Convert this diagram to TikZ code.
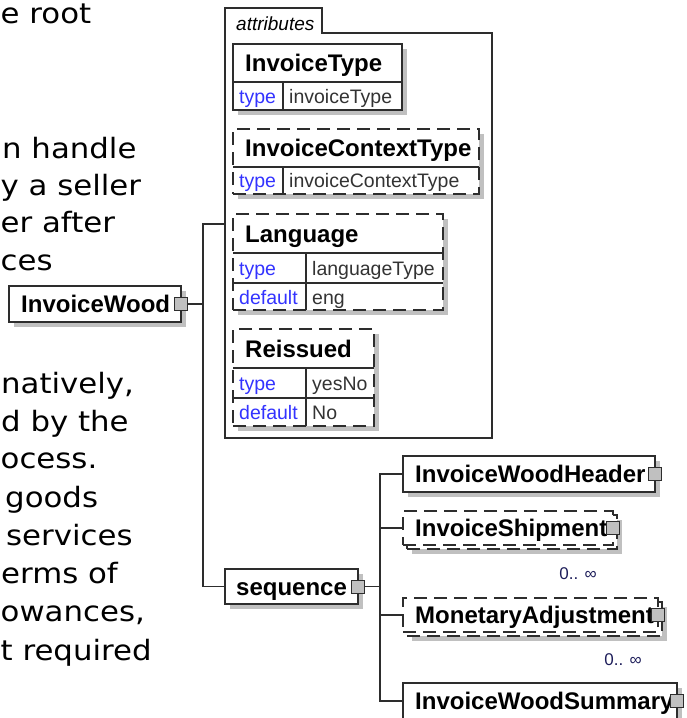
\documentclass[tikz,border=0pt]{standalone}
\usepackage{fontspec}
\setmainfont{Liberation Sans}
\newfontfamily\leftfont[FakeStretch=1.1]{DejaVu Sans}
\usetikzlibrary{shadows}
\definecolor{shgray}{RGB}{192,192,192}
\definecolor{lnc}{RGB}{45,45,45}
\definecolor{kwblue}{RGB}{51,51,255}
\definecolor{valc}{RGB}{51,51,51}
\definecolor{occc}{RGB}{30,30,90}
\definecolor{sqfill}{RGB}{192,192,192}
\tikzset{
  plainbox/.style={draw=lnc, line width=1.3pt, fill=white, inner sep=0pt, outer sep=0pt, anchor=north west},
  box/.style={plainbox, drop shadow={shadow xshift=5pt, shadow yshift=-5pt, fill=shgray, opacity=1}},
  optdash/.style={dash pattern=on 13pt off 7pt},
  innerline/.style={draw=lnc, line width=1.1pt},
  conn/.style={draw=lnc, line width=1.3pt},
  sq/.style={draw=lnc, fill=sqfill, line width=1pt, minimum size=13pt, inner sep=0pt, outer sep=0pt},
  ename/.style={anchor=base west, inner sep=0pt, font=\fontsize{24}{28}\selectfont\bfseries},
  akey/.style={anchor=base west, inner sep=0pt, text=kwblue, font=\fontsize{19.5}{23}\selectfont},
  aval/.style={anchor=base west, inner sep=0pt, text=valc, font=\fontsize{19.5}{23}\selectfont},
  occ/.style={anchor=base east, inner sep=0pt, text=occc, font=\fontsize{17}{20}\selectfont},
  lt/.style={anchor=base west, inner sep=0pt, text=black, font=\leftfont\fontsize{28}{34}\selectfont}
}
\begin{document}
\begin{tikzpicture}[x=1pt,y=-1pt]
\useasboundingbox (0,0) rectangle (687,718);
\clip (0,0) rectangle (687,718);

% left paragraph fragments
\node[lt] (l1) at (0.5,23) {e root};
\node[lt] (l2) at (2,158) {n handle};
\node[lt] (l3) at (0.5,195.5) {y a seller};
\node[lt] (l4) at (0.5,232) {er after};
\node[lt] (l5) at (0.5,270) {ces};
\node[lt] (l6) at (1,393) {natively,};
\node[lt] (l7) at (1,431) {d by the};
\node[lt] (l8) at (0.5,468) {ocess.};
\node[lt] (l9) at (5,507) {goods};
\node[lt] (l10) at (6,545) {services};
\node[lt] (l11) at (1,583) {erms of};
\node[lt] (l12) at (0.5,621) {owances,};
\node[lt] (l13) at (0.5,660) {t required};

% attributes container
\draw[conn] (225,438) -- (225,8) -- (322,8) -- (322,33) -- (492,33) -- (492,438) -- cycle;
\node[anchor=base west, inner sep=0pt, font=\fontsize{19}{22}\selectfont\itshape] (attrlbl) at (236,30) {attributes};
\coordinate (attrin) at (225,224);

% InvoiceType
\node[box, minimum width=169pt, minimum height=66pt] (itype) at (233,44) {};
\draw[innerline] (233,82) -- (402,82) (283,82) -- (283,110);
\node[ename] at (245,71.5) {InvoiceType};
\node[akey] at (239,103) {type};
\node[aval] at (289,103) {invoiceType};

% InvoiceContextType
\node[box, optdash, minimum width=246pt, minimum height=65pt] (ictype) at (233,129) {};
\draw[innerline] (233,167) -- (479,167) (283,167) -- (283,194);
\node[ename] at (245,156.5) {InvoiceContextType};
\node[akey] at (239,187.5) {type};
\node[aval] at (289,187.5) {invoiceContextType};

% Language
\node[box, optdash, minimum width=210pt, minimum height=96pt] (lang) at (233,214) {};
\draw[innerline] (233,253) -- (443,253) (233,283) -- (443,283) (306,253) -- (306,310);
\node[ename] at (245,242) {Language};
\node[akey] at (239,275) {type};
\node[aval] at (312,275) {languageType};
\node[akey] at (239,304) {default};
\node[aval] at (312,304) {eng};

% Reissued
\node[box, optdash, minimum width=141pt, minimum height=97pt] (reis) at (233,329) {};
\draw[innerline] (233,368) -- (374,368) (233,398) -- (374,398) (306,368) -- (306,426);
\node[ename] at (245,357) {Reissued};
\node[akey] at (239,390) {type};
\node[aval] at (312,390) {yesNo};
\node[akey] at (239,419) {default};
\node[aval] at (312,419) {No};

% InvoiceWood root
\node[box, minimum width=172pt, minimum height=36pt] (wood) at (9,286) {};
\node[ename] at (21,312.5) {InvoiceWood};
\node[sq] (wsq) at (wood.east) {};

% sequence
\node[box, minimum width=133pt, minimum height=35pt] (seq) at (225,569) {};
\node[ename] at (236,595) {sequence};
\node[sq] (ssq) at (seq.east) {};

% children of sequence
\node[box, minimum width=252pt, minimum height=36pt] (hdr) at (403,456) {};
\node[ename] at (415,482.5) {InvoiceWoodHeader};
\node[sq] (hsq) at (hdr.east) {};

\node[box, optdash, minimum width=210pt, minimum height=34pt] (shipb) at (407,515) {};
\node[plainbox, optdash, minimum width=210pt, minimum height=34pt] (ship) at (403,511) {};
\node[ename] at (415,536.5) {InvoiceShipment};
\node[sq] (shsq) at (ship.east) {};
\node[occ] (occ1) at (597,579) {0.. ∞};

\node[box, optdash, minimum width=255pt, minimum height=34pt] (monb) at (407,602) {};
\node[plainbox, optdash, minimum width=255pt, minimum height=34pt] (mon) at (403,598) {};
\node[ename] at (415,623.5) {MonetaryAdjustment};
\node[sq] (msq) at (mon.east) {};
\node[occ] (occ2) at (642,665.5) {0.. ∞};

\node[box, minimum width=274pt, minimum height=36pt] (sum) at (403,683) {};
\node[ename] at (415,709.5) {InvoiceWoodSummary};
\node[sq] (susq) at (sum.east) {};

% connectors
\coordinate (bus1) at (203,304);
\draw[conn] (wsq.east) -- (bus1);
\draw[conn] (attrin) -| (bus1) |- (seq.west);
\coordinate (bus2) at (380,586.5);
\draw[conn] (ssq.east) -- (bus2);
\draw[conn] (hdr.west) -| (bus2) |- (sum.west);
\draw[conn] (ship.west) -- (ship.west -| bus2);
\draw[conn] (mon.west) -- (mon.west -| bus2);
\end{tikzpicture}
\end{document}
